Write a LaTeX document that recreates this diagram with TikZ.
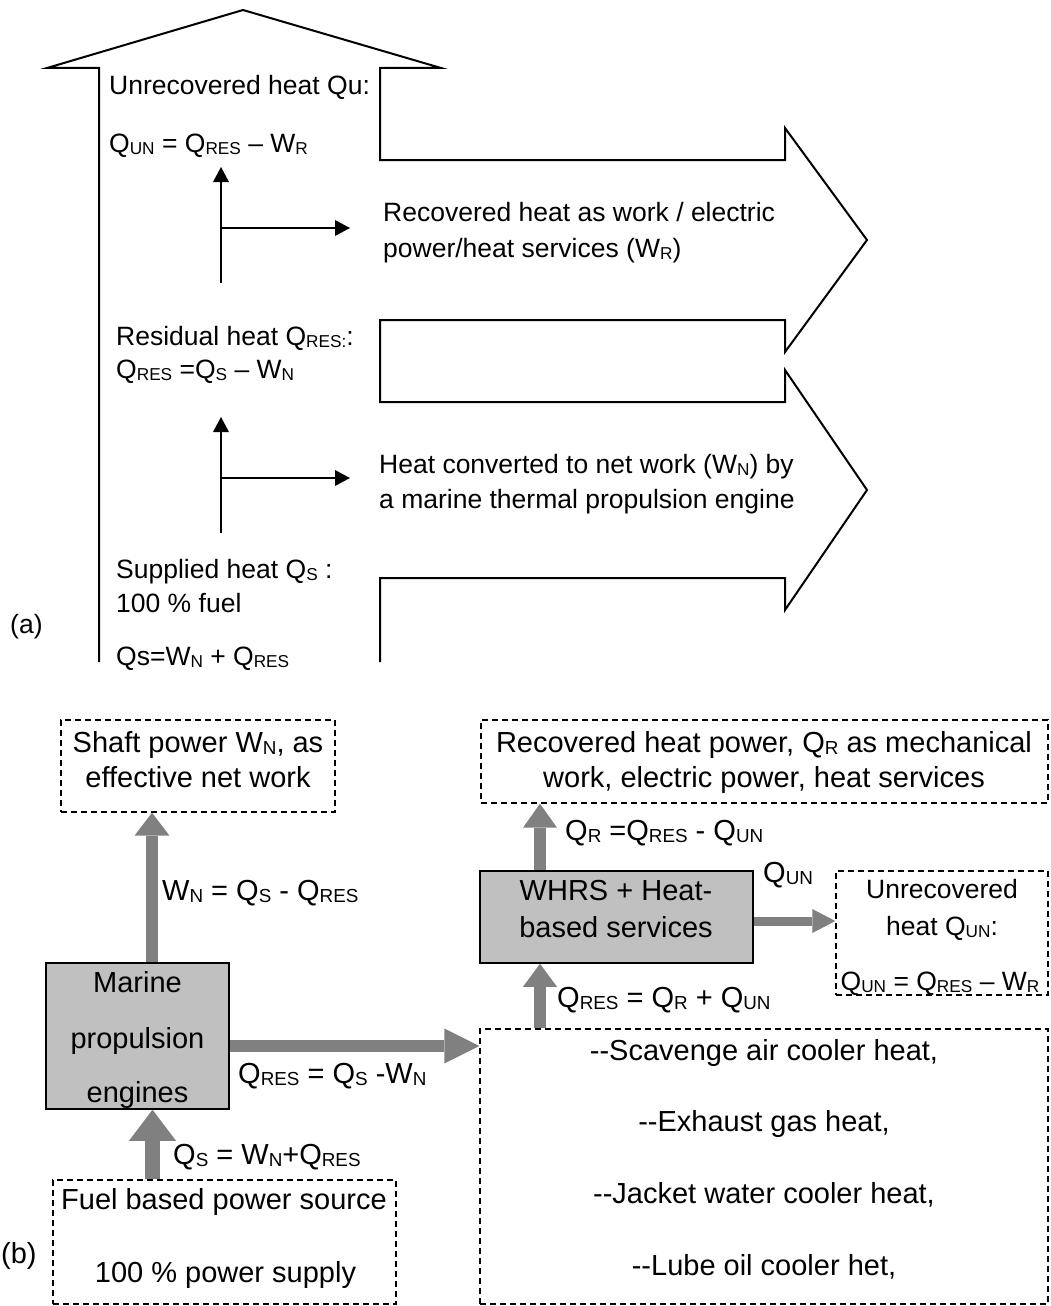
\documentclass[tikz,border=0pt]{standalone}
\usepackage{fontspec}
\setmainfont{Liberation Sans}
\usepackage{graphicx}
\usetikzlibrary{arrows.meta,calc}
\newcommand\lw[1]{\raisebox{-0.08em}{\scalebox{0.65}{#1}}}
\definecolor{boxgray}{HTML}{C0C0C0}
\definecolor{arrgray}{HTML}{808080}
\begin{document}
\begin{tikzpicture}[x=1pt,y=-1pt,
  fa/.style={font=\fontsize{26.5}{32}\selectfont, inner sep=0pt},
  fb/.style={font=\fontsize{29}{35}\selectfont, inner sep=0pt},
  outl/.style={line width=2pt, line join=miter},
  blk/.style={line width=2pt, -{Triangle[length=15pt,width=16pt,line width=0pt]}},
  dbox/.style={draw, line width=1.3pt, dash pattern=on 6pt off 4pt, inner sep=0pt},
  gbox/.style={draw, fill=boxgray, line width=1.5pt, inner sep=0pt},
  garrow/.style={arrgray, line width=12pt, -{Triangle[length=23pt,width=35pt,line width=0pt]}},
]
\useasboundingbox (0,0) rectangle (1050,1306);

% ---------- (a) ----------
\draw[outl] (99,662) -- (99,68) -- (47,68) -- (243,10) -- (441,68) -- (380,68)
  -- (380,160) -- (785,160) -- (785,128) -- (867,240) -- (785,352) -- (785,320)
  -- (380,320) -- (380,402) -- (785,402) -- (785,370) -- (867,490) -- (785,610)
  -- (785,578) -- (380,578) -- (380,662);

\coordinate (u1b) at (221,283); \coordinate (u1t) at (221,167);
\coordinate (u1m) at (221,228); \coordinate (u1r) at (350,228);
\draw[blk] (u1b) -- (u1t);
\draw[blk] (u1m) -- (u1r);
\coordinate (u2b) at (221,533); \coordinate (u2t) at (221,417);
\coordinate (u2m) at (221,478); \coordinate (u2r) at (350,478);
\draw[blk] (u2b) -- (u2t);
\draw[blk] (u2m) -- (u2r);

\node[fa, anchor=base west] (t1) at (109,95) {Unrecovered heat Qu:};
\node[fa, anchor=base west] (t2) at (109,152) {Q\lw{UN} = Q\lw{RES} – W\lw{R}};
\node[fa, anchor=base west] (t3) at (383,221) {Recovered heat as work / electric};
\node[fa, anchor=base west] (t4) at (383,257) {power/heat services (W\lw{R})};
\node[fa, anchor=base west] (t5) at (116,345) {Residual heat Q\lw{RES:}:};
\node[fa, anchor=base west] (t6) at (116,378) {Q\lw{RES} =Q\lw{S} – W\lw{N}};
\node[fa, anchor=base west] (t7) at (379,473) {Heat converted to net work (W\lw{N}) by};
\node[fa, anchor=base west] (t8) at (379,508) {a marine thermal propulsion engine};
\node[fa, anchor=base west] (t9) at (116,578) {Supplied heat Q\lw{S} :};
\node[fa, anchor=base west] (t10) at (116,612) {100 \% fuel};
\node[fa, anchor=base west] (ta) at (10,633) {(a)};
\node[fa, anchor=base west] (t11) at (116,665) {Qs=W\lw{N} + Q\lw{RES}};

% ---------- (b) ----------
\node[dbox, minimum width=274pt, minimum height=92pt] (shaft) at (198,766) {};
\node[dbox, minimum width=567pt, minimum height=83pt] (rec) at (764.5,761.5) {};
\node[gbox, minimum width=183pt, minimum height=146pt] (eng) at (137.5,1036) {};
\node[gbox, minimum width=273pt, minimum height=92pt] (whrs) at (616.5,917) {};
\node[dbox, minimum width=212pt, minimum height=124pt] (unrec) at (942,933) {};
\node[dbox, minimum width=343pt, minimum height=124pt] (fuel) at (224.5,1242) {};
\node[dbox, minimum width=568pt, minimum height=275pt] (scav) at (764,1166.5) {};

\node[fb, anchor=base] (s1) at (198,752) {Shaft power W\lw{N}, as};
\node[fb, anchor=base] (s2) at (198,787) {effective net work};
\node[fb, anchor=base] (r1) at (764,752) {Recovered heat power, Q\lw{R} as mechanical};
\node[fb, anchor=base] (r2) at (764,787) {work, electric power, heat services};
\node[fb, anchor=base] (e1) at (137.5,992) {Marine};
\node[fb, anchor=base] (e2) at (137.5,1048) {propulsion};
\node[fb, anchor=base] (e3) at (137.5,1102) {engines};
\node[fb, anchor=base] (w1) at (616,900) {WHRS + Heat-};
\node[fb, anchor=base] (w2) at (616,937) {based services};
\node[fa, anchor=base] (n1) at (942,898) {Unrecovered};
\node[fa, anchor=base] (n2) at (942,935) {heat Q\lw{UN}:};
\node[fa, anchor=base] (n3) at (940,990) {Q\lw{UN} = Q\lw{RES} – W\lw{R}};
\node[fb, anchor=base] (f1) at (224,1209) {Fuel based power source};
\node[fb, anchor=base] (f2) at (225.5,1282) {100 \% power supply};
\node[fb, anchor=base] (c1) at (764,1060) {-{}-Scavenge air cooler heat,};
\node[fb, anchor=base] (c2) at (764,1131) {-{}-Exhaust gas heat,};
\node[fb, anchor=base] (c3) at (764,1203) {-{}-Jacket water cooler heat,};
\node[fb, anchor=base] (c4) at (764,1275) {-{}-Lube oil cooler het,};

\node[fb, anchor=base west] (l1) at (162,900) {W\lw{N} = Q\lw{S} - Q\lw{RES}};
\node[fb, anchor=base west] (l2) at (565,840) {Q\lw{R} =Q\lw{RES} - Q\lw{UN}};
\node[fb, anchor=base west] (l3) at (763,882) {Q\lw{UN}};
\node[fb, anchor=base west] (l4) at (557,1007) {Q\lw{RES} = Q\lw{R} + Q\lw{UN}};
\node[fb, anchor=base west] (l5) at (238,1083) {Q\lw{RES} = Q\lw{S} -W\lw{N}};
\node[fb, anchor=base west] (l6) at (173,1164) {Q\lw{S} = W\lw{N}+Q\lw{RES}};
\node[fb, anchor=base west] (tb) at (1,1263) {(b)};

\coordinate (xA) at (152,0);
\coordinate (yB) at (0,1046);
\coordinate (xC) at (152.5,0);
\coordinate (xD) at (540,0);
\coordinate (yE) at (0,921);
\draw[garrow] (eng.north -| xA) -- (shaft.south -| xA);
\draw[garrow, -{Triangle[length=35pt,width=35pt,line width=0pt]}] (eng.east |- yB) -- (scav.west |- yB);
\draw[garrow, line width=15pt, -{Triangle[length=31pt,width=47pt,line width=0pt]}] (fuel.north -| xC) -- (eng.south -| xC);
\draw[garrow, -{Triangle[length=24pt,width=34pt,line width=0pt]}] (whrs.north -| xD) -- (rec.south -| xD);
\draw[garrow, -{Triangle[length=23pt,width=34pt,line width=0pt]}] (scav.north -| xD) -- (whrs.south -| xD);
\draw[garrow, line width=9pt, -{Triangle[length=23pt,width=24pt,line width=0pt]}] (whrs.east |- yE) -- (unrec.west |- yE);
\end{tikzpicture}
\end{document}
